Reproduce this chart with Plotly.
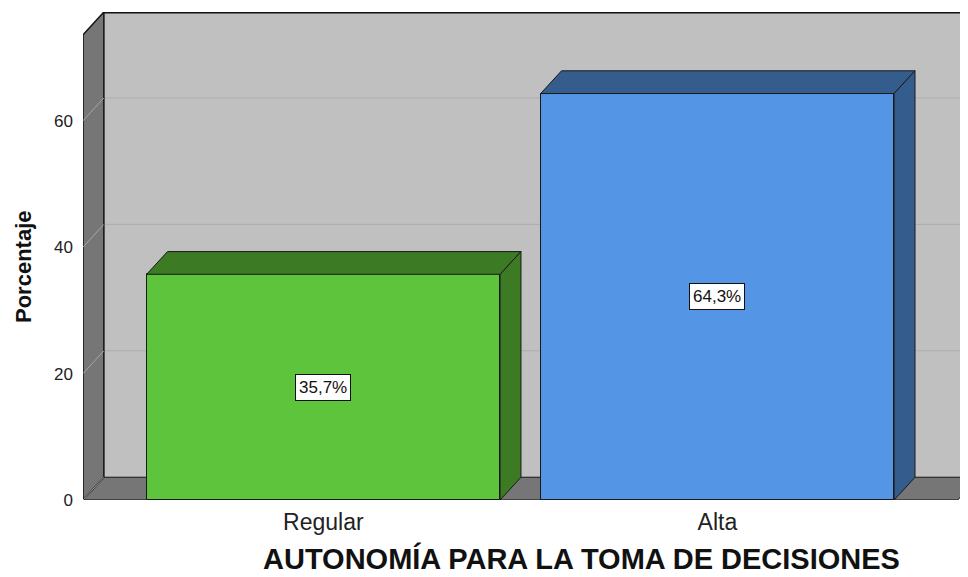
import plotly.graph_objects as go

# ---- data ----
categories = ["Regular", "Alta"]
percentages = [35.7, 64.3]
y_ticks = [0, 20, 40, 60]

# ---- styling / geometry (not data) ----
front_colors = ["#5DC43B", "#5595E5"]
dark_colors = ["#3C7A24", "#345D8E"]
WALL = "#C0C0C0"
SIDE = "#767676"
BAR_W = 0.897
XL, XF, XR = -0.61, 1.61, 1.636   # front-left, front-right, plot right edge
DX, DY = 0.053, 3.6                # depth offsets (x units, y units)
YMAX = 77.2
FONT = "Liberation Sans, Arial, sans-serif"

xpos = list(range(len(categories)))

fig = go.Figure()

# front faces of the bars
fig.add_trace(go.Bar(
    x=xpos, y=percentages, width=BAR_W,
    marker=dict(color=front_colors, line=dict(color="#1a1a1a", width=1)),
    hoverinfo="skip", showlegend=False,
))

# top and side faces computed from the values
for c, v, dc in zip(xpos, percentages, dark_colors):
    l, r = c - BAR_W / 2, c + BAR_W / 2
    fig.add_trace(go.Scatter(
        x=[l, r, r + DX, l + DX, l], y=[v, v, v + DY, v + DY, v],
        fill="toself", fillcolor=dc, mode="lines",
        line=dict(color="#1a1a1a", width=1), hoverinfo="skip", showlegend=False,
    ))
    fig.add_trace(go.Scatter(
        x=[r, r + DX, r + DX, r, r], y=[0, DY, v + DY, v, 0],
        fill="toself", fillcolor=dc, mode="lines",
        line=dict(color="#1a1a1a", width=1), hoverinfo="skip", showlegend=False,
    ))

shapes = []
# back wall
shapes.append(dict(type="rect", xref="x", yref="y", x0=XL + DX, x1=XR + 1, y0=DY, y1=YMAX,
                   fillcolor=WALL, line=dict(width=0), layer="below"))
# back wall gridlines
for t in y_ticks[1:]:
    shapes.append(dict(type="line", xref="x", yref="y", x0=XL + DX, x1=XR + 1, y0=t + DY, y1=t + DY,
                       line=dict(color="#ACACAC", width=1), layer="below"))
# top edge of back wall
shapes.append(dict(type="line", xref="x", yref="y", x0=XL + DX, x1=XR + 1, y0=YMAX - 0.1, y1=YMAX - 0.1,
                   line=dict(color="#111", width=1.5), layer="below"))
# floor
shapes.append(dict(type="path", xref="x", yref="y",
                   path=f"M {XL},0 L {XF},0 L {XF + DX},{DY} L {XL + DX},{DY} Z",
                   fillcolor=SIDE, line=dict(color="#111", width=1), layer="below"))
# left wall
shapes.append(dict(type="path", xref="x", yref="y",
                   path=f"M {XL},0 L {XL},{YMAX - DY} L {XL + DX},{YMAX} L {XL + DX},{DY} Z",
                   fillcolor=SIDE, line=dict(color="#111", width=1.5), layer="below"))
# left wall gridlines
for t in y_ticks:
    shapes.append(dict(type="line", xref="x", yref="y", x0=XL, x1=XL + DX, y0=t, y1=t + DY,
                       line=dict(color="#A6A6A6", width=1), layer="below"))

annotations = []
for c, v in zip(xpos, percentages):
    annotations.append(dict(
        x=c, y=v / 2, xref="x", yref="y", showarrow=False,
        text=f"{v:.1f}".replace(".", ",") + "%",
        font=dict(family=FONT, size=17, color="#111"),
        bgcolor="white", bordercolor="#111", borderwidth=1, borderpad=3,
    ))
annotations.append(dict(
    x=(23 - 83) / 885, y=(500 - 267) / 488, xref="paper", yref="paper", showarrow=False,
    text="<b>Porcentaje</b>", textangle=-90,
    font=dict(family=FONT, size=22, color="#111"),
    xanchor="center", yanchor="middle",
))
annotations.append(dict(
    x=(581 - 83) / 885, y=(500 - 558) / 488, xref="paper", yref="paper", showarrow=False,
    text="<b>AUTONOMÍA PARA LA TOMA DE DECISIONES</b>",
    font=dict(family=FONT, size=29, color="#111"),
    xanchor="center", yanchor="middle",
))

# the page body adds an 8px offset, so the figure is 8px smaller and margins shifted
fig.update_layout(
    width=960, height=569,
    margin=dict(l=75, r=0, t=4, b=77, autoexpand=False),
    paper_bgcolor="white", plot_bgcolor="white",
    shapes=shapes, annotations=annotations,
    showlegend=False, bargap=0,
    xaxis=dict(range=[XL, XR], tickvals=xpos, ticktext=categories,
               showgrid=False, zeroline=False, showline=False, ticks="",
               tickfont=dict(family=FONT, size=23, color="#222"),
               ticklabelstandoff=6, fixedrange=True),
    yaxis=dict(range=[0, YMAX], tickvals=y_ticks, ticktext=[str(t) for t in y_ticks],
               showgrid=False, zeroline=False, showline=False, ticks="",
               tickfont=dict(family=FONT, size=17, color="#222"),
               ticklabelstandoff=9, fixedrange=True),
)

fig.write_html("out.html")
